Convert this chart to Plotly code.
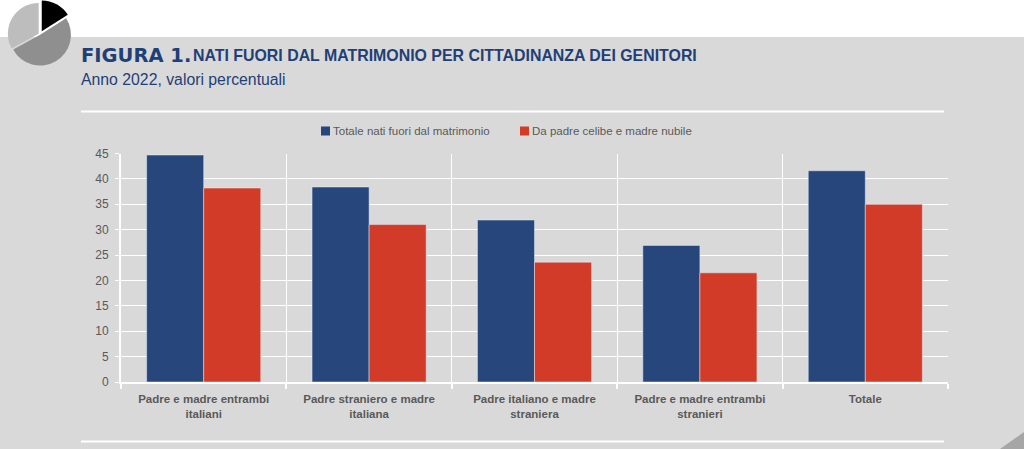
import plotly.graph_objects as go

categories = [
    "Padre e madre entrambi<br>italiani",
    "Padre straniero e madre<br>italiana",
    "Padre italiano e madre<br>straniera",
    "Padre e madre entrambi<br>stranieri",
    "Totale",
]
totale = [44.7, 38.4, 31.9, 26.9, 41.6]
celibe = [38.2, 31.0, 23.6, 21.5, 35.0]
y_ticks = list(range(0, 50, 5))

icon_values = [16, 51, 33]
icon_colors = ["#000000", "#8f8f8f", "#bdbdbd"]

W, H = 1024, 449
BLUE = "#27477c"
RED = "#d23b27"
GREY = "#595959"
NAVY = "#1f3f77"


def px(x):
    return x / W


def py(y):
    return 1 - y / H


def swatch(x0, color):
    return dict(type="rect", xref="paper", yref="paper", x0=px(x0), x1=px(x0 + 9), y0=py(135.5), y1=py(126.5),
                fillcolor=color, line_width=0)


def label(text, x, y, family="Liberation Sans", size=16, color=NAVY):
    return dict(text=text, xref="paper", yref="paper", x=px(x), y=py(y), xanchor="left", yanchor="middle",
                showarrow=False, font=dict(family=family, size=size, color=color))


fig = go.Figure()
fig.add_trace(go.Bar(name="Totale nati fuori dal matrimonio", x=categories, y=totale, marker_color=BLUE))
fig.add_trace(go.Bar(name="Da padre celibe e madre nubile", x=categories, y=celibe, marker_color=RED))
fig.add_trace(go.Pie(
    values=icon_values, sort=False, direction="clockwise", rotation=0,
    marker=dict(colors=icon_colors, line=dict(width=0)),
    pull=[0.12, 0.01, 0.05], textinfo="none", showlegend=False, hoverinfo="skip",
    domain=dict(x=[px(5), px(75)], y=[py(69), py(0)]),
))

fig.update_layout(
    width=W, height=H,
    margin=dict(l=0, r=0, t=0, b=0, autoexpand=False),
    paper_bgcolor="white",
    plot_bgcolor="rgba(0,0,0,0)",
    barmode="group",
    bargap=0.31,
    bargroupgap=0,
    showlegend=False,
    font=dict(family="Liberation Sans", color=GREY, size=12),
    xaxis=dict(
        domain=[px(121), px(948)],
        tickson="boundaries", ticks="outside", ticklen=5, tickcolor="white", tickwidth=2,
        showgrid=True, gridcolor="white", gridwidth=1,
        showline=True, linecolor="white", linewidth=2,
        tickfont=dict(family="Liberation Sans", size=11.5, color=GREY, weight="bold"),
        tickangle=0, ticklabelstandoff=5,
    ),
    yaxis=dict(
        domain=[py(382), py(153.5)],
        range=[0, 45], tickvals=y_ticks,
        ticks="outside", ticklen=4, tickcolor="white", tickwidth=1,
        showgrid=True, gridcolor="white", gridwidth=1,
        showline=True, linecolor="white", linewidth=2,
        zeroline=False, ticklabelstandoff=4,
        tickfont=dict(family="Liberation Sans", size=12, color=GREY),
    ),
    shapes=[
        dict(type="rect", xref="paper", yref="paper", x0=0, x1=1, y0=0, y1=py(37),
             fillcolor="#d9d9d9", line_width=0, layer="below"),
        dict(type="path", xref="paper", yref="paper",
             path=f"M {px(1000)} {py(449)} L {px(1024)} {py(432)} L {px(1024)} {py(449)} Z",
             fillcolor="#a6a6a6", line_width=0, layer="below"),
        dict(type="line", xref="paper", yref="paper", x0=px(81), x1=px(944), y0=py(111.5), y1=py(111.5),
             line=dict(color="white", width=2)),
        dict(type="line", xref="paper", yref="paper", x0=px(81), x1=px(944), y0=py(441.5), y1=py(441.5),
             line=dict(color="white", width=2)),
        swatch(321, BLUE),
        swatch(520, RED),
    ],
    annotations=[
        label("<b>FIGURA 1.</b>", 79, 55, family="DejaVu Sans", size=19.5),
        label("<b>NATI FUORI DAL MATRIMONIO PER CITTADINANZA DEI GENITORI</b>", 191, 55, size=15.9),
        label("Anno 2022, valori percentuali", 79, 80, size=15.8),
        label("Totale nati fuori dal matrimonio", 331, 131, size=11.5, color=GREY),
        label("Da padre celibe e madre nubile", 530, 131, size=11.5, color=GREY),
    ],
)

# drop the page's default 8px margin so the figure sits in the window corner
fig.write_html("out.html", config=dict(displayModeBar=False), post_script="document.body.style.margin='0';")
